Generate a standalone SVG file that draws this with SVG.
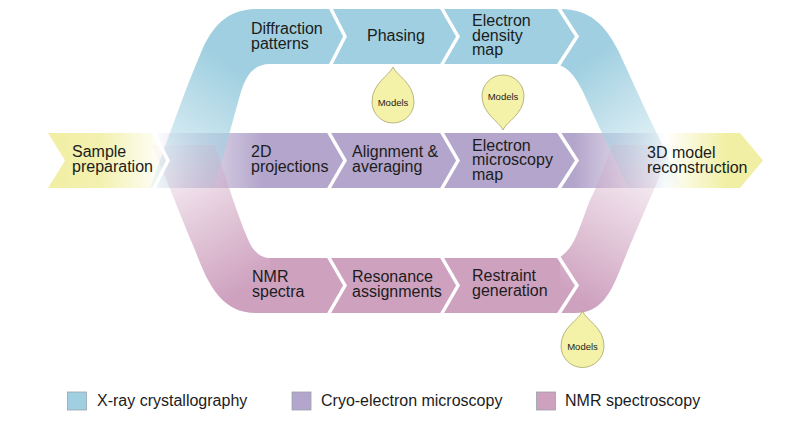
<svg xmlns="http://www.w3.org/2000/svg" width="802" height="443" viewBox="0 0 802 443">
<defs>
<linearGradient id="gBlueL" gradientUnits="userSpaceOnUse" x1="150" y1="195" x2="240" y2="70">
<stop offset="0" stop-color="#9fcfe0" stop-opacity="0.08"/>
<stop offset="0.5" stop-color="#9fcfe0" stop-opacity="0.55"/>
<stop offset="1" stop-color="#9fcfe0" stop-opacity="1"/>
</linearGradient>
<linearGradient id="gBlueR" gradientUnits="userSpaceOnUse" x1="585" y1="60" x2="680" y2="185">
<stop offset="0" stop-color="#9fcfe0" stop-opacity="1"/>
<stop offset="0.45" stop-color="#9fcfe0" stop-opacity="0.55"/>
<stop offset="1" stop-color="#9fcfe0" stop-opacity="0.03"/>
</linearGradient>
<linearGradient id="gPinkL" gradientUnits="userSpaceOnUse" x1="160" y1="150" x2="245" y2="290">
<stop offset="0" stop-color="#cea1bf" stop-opacity="0.05"/>
<stop offset="0.5" stop-color="#cea1bf" stop-opacity="0.55"/>
<stop offset="1" stop-color="#cea1bf" stop-opacity="1"/>
</linearGradient>
<linearGradient id="gPinkR" gradientUnits="userSpaceOnUse" x1="580" y1="300" x2="670" y2="150">
<stop offset="0" stop-color="#cea1bf" stop-opacity="1"/>
<stop offset="0.45" stop-color="#cea1bf" stop-opacity="0.55"/>
<stop offset="1" stop-color="#cea1bf" stop-opacity="0.03"/>
</linearGradient>
<linearGradient id="gMid" gradientUnits="userSpaceOnUse" x1="153" y1="0" x2="763" y2="0">
<stop offset="0" stop-color="#ffffff"/>
<stop offset="0.18" stop-color="#b3a5cb"/>
<stop offset="0.69" stop-color="#b3a5cb"/>
<stop offset="0.84" stop-color="#ffffff"/>
<stop offset="0.94" stop-color="#f1efa3"/>
<stop offset="1" stop-color="#f1efa3"/>
</linearGradient>
<linearGradient id="gYel" gradientUnits="userSpaceOnUse" x1="48" y1="0" x2="165" y2="0">
<stop offset="0" stop-color="#f1efa3"/>
<stop offset="0.45" stop-color="#f3f1b0"/>
<stop offset="1" stop-color="#ffffff"/>
</linearGradient>
</defs>
<style>
text { font-family: "Liberation Sans", Arial, sans-serif; font-size: 16px; fill: #1c1c1c; }
.sep { fill: none; stroke: #ffffff; stroke-width: 3.5; stroke-linejoin: miter; }
.drop { fill: #f4f1a8; stroke: #a9a56a; stroke-width: 0.8; }
.drop-t { font-size: 9.5px; text-anchor: middle; }
.leg { stroke: #9aa4a8; stroke-width: 0.8; }
</style>
<rect width="802" height="443" fill="#ffffff"/>

<g id="ribbons">
<!-- middle row -->
<path id="row-sample" d="M48,133 L153,133 L168,160.5 L153,188 L48,188 L65,160.5 Z" fill="url(#gYel)"/>
<path id="row-cryo" d="M153,133 L740,133 L763,160.5 L740,188 L153,188 L168,160.5 Z" fill="url(#gMid)"/>
<!-- X-ray row -->
<path id="xray-left" d="M150,188 C175,120 185,90 200,55 C212,25 228,9 258,9 L275,9 L275,64 L270,64 C252,64 245,78 240,95 C233,120 225,150 214,188 Z" fill="url(#gBlueL)"/>
<path id="xray-main" d="M270,9 L560,9 L560,64 L270,64 Z" fill="#9fcfe0"/>
<path id="xray-right" d="M550,9 L560,9 C590,9 605,25 618,50 C632,80 645,110 660,140 C668,158 675,172 684,188 L628,188 C615,160 605,140 595,118 C583,92 575,68 556,64 L550,64 Z" fill="url(#gBlueR)"/>
<!-- NMR row -->
<path id="nmr-left" d="M152,145 C165,175 180,215 195,250 C208,285 222,313 256,313 L275,313 L275,258 L268,258 C255,256 250,245 245,232 C238,215 228,185 215,145 Z" fill="url(#gPinkL)"/>
<path id="nmr-main" d="M270,258 L560,258 L560,313 L270,313 Z" fill="#cea1bf"/>
<path id="nmr-right" d="M550,313 L575,313 C600,313 610,295 620,270 C632,240 645,210 656,185 C662,170 668,155 675,145 L612,145 C605,165 598,185 590,200 C580,225 575,250 558,258 L550,258 Z" fill="url(#gPinkR)"/>
</g>

<g id="connectors">
<polyline class="sep" points="330,7 345,36.5 330,66"/>
<polyline class="sep" points="441,7 458,36.5 441,66"/>
<polyline class="sep" points="558,7 577,36.5 558,66"/>
<polyline class="sep" points="153,131 168,160.5 153,190"/>
<polyline class="sep" points="328,131 345,160.5 328,190"/>
<polyline class="sep" points="441,131 458,160.5 441,190"/>
<polyline class="sep" points="558,131 577,160.5 558,190"/>
<polyline class="sep" points="328,256 345,285.5 328,315"/>
<polyline class="sep" points="441,256 458,285.5 441,315"/>
<polyline class="sep" points="558,256 577,285.5 558,315"/>
</g>

<g id="models-1">
<path class="drop" d="M393,67 C396,75 414,83 414,102 A21,21 0 0 1 372,102 C372,83 390,75 393,67 Z"/>
<text class="drop-t" x="393" y="105.5">Models</text>
</g>
<g id="models-2">
<path class="drop" d="M503,130 C506,122 524,114 524,96 A21,21 0 0 0 482,96 C482,114 500,122 503,130 Z"/>
<text class="drop-t" x="503" y="99.5">Models</text>
</g>
<g id="models-3">
<path class="drop" d="M582.5,311 C585.5,320 604,327 604,346 A21.5,21.5 0 0 1 561,346 C561,327 579.5,320 582.5,311 Z"/>
<text class="drop-t" x="582.5" y="349.5">Models</text>
</g>

<g id="node-sample"><text x="72" y="157">Sample</text><text x="72" y="172">preparation</text></g>
<g id="node-diffraction"><text x="251" y="34">Diffraction</text><text x="251" y="49">patterns</text></g>
<g id="node-phasing"><text x="367" y="41">Phasing</text></g>
<g id="node-density"><text x="472" y="26">Electron</text><text x="472" y="40.8">density</text><text x="472" y="55.3">map</text></g>
<g id="node-2d"><text x="251" y="157">2D</text><text x="251" y="172">projections</text></g>
<g id="node-align"><text x="352" y="157">Alignment &amp;</text><text x="352" y="172">averaging</text></g>
<g id="node-em"><text x="472" y="150.5">Electron</text><text x="472" y="165.3">microscopy</text><text x="472" y="180">map</text></g>
<g id="node-3d"><text x="647" y="158">3D model</text><text x="647" y="173">reconstruction</text></g>
<g id="node-nmr"><text x="252" y="282">NMR</text><text x="252" y="297">spectra</text></g>
<g id="node-resonance"><text x="352" y="282">Resonance</text><text x="352" y="297">assignments</text></g>
<g id="node-restraint"><text x="472" y="281">Restraint</text><text x="472" y="296">generation</text></g>

<g id="legend">
<rect class="leg" x="67.5" y="392" width="19" height="18" fill="#9fcfe0"/>
<text x="97" y="406">X-ray crystallography</text>
<rect class="leg" x="292" y="392" width="19" height="18" fill="#b3a5cb"/>
<text x="321" y="406">Cryo-electron microscopy</text>
<rect class="leg" x="536.5" y="392" width="19" height="18" fill="#cea1bf"/>
<text x="565" y="406">NMR spectroscopy</text>
</g>
</svg>
